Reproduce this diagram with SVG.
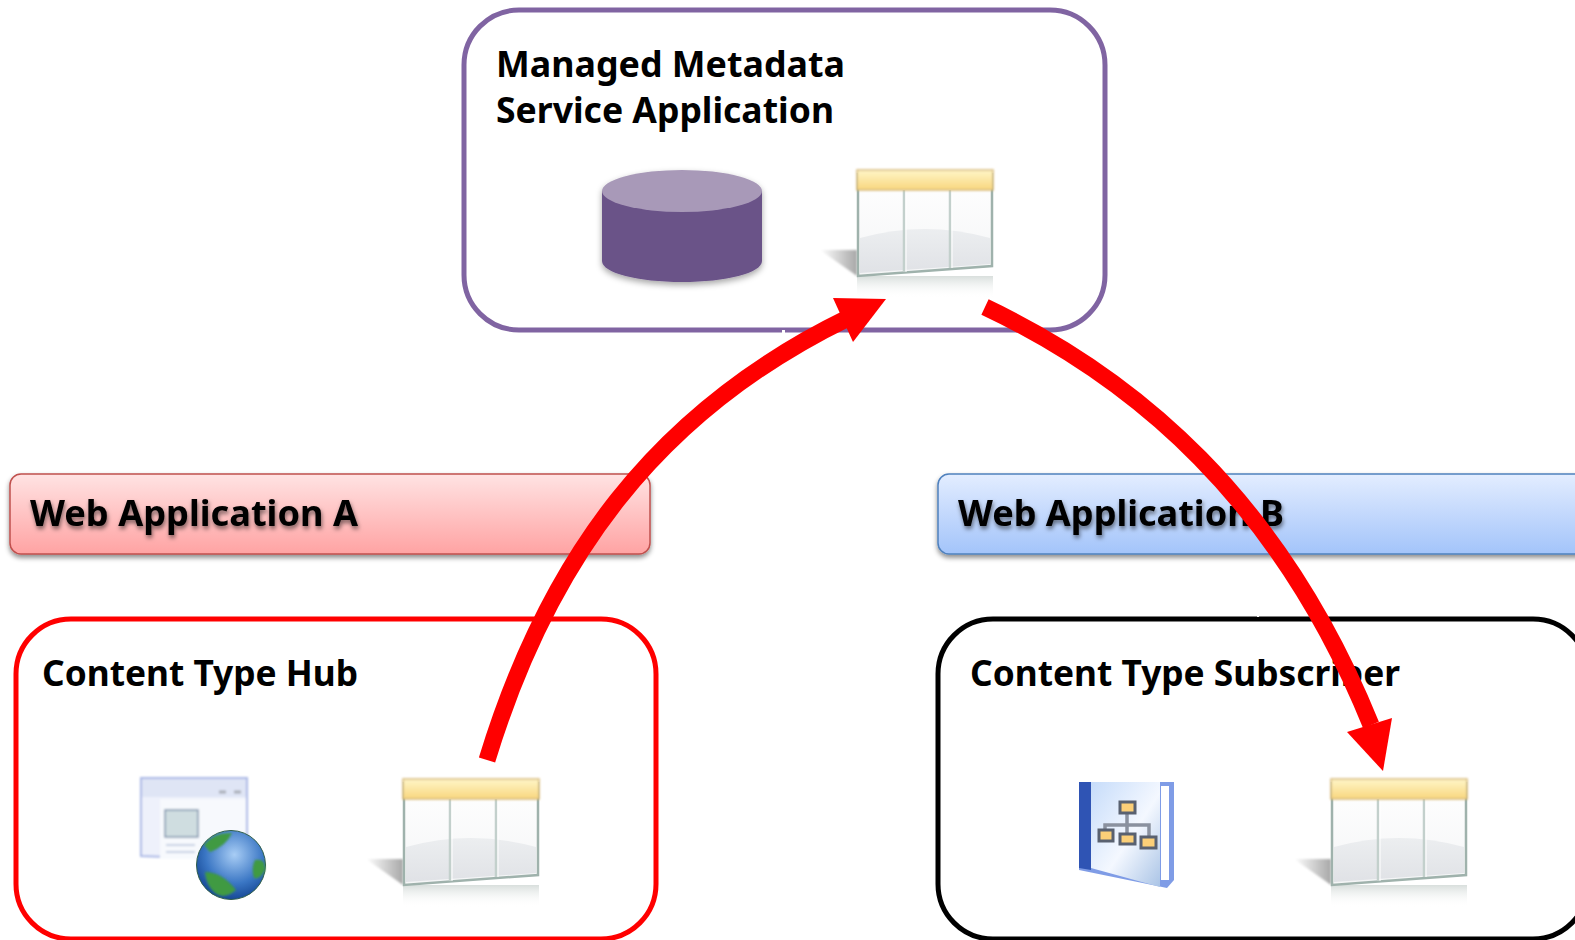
<svg xmlns="http://www.w3.org/2000/svg" width="1575" height="940" viewBox="0 0 1575 940">
<style>
.t{font-family:"Noto Sans","Open Sans","Liberation Sans",sans-serif;font-weight:700;font-size:36px;fill:#000}
.box{fill:#fff;stroke-width:5}
.arrow{fill:none;stroke:#f00;stroke-width:17}
.head{fill:#f00}
</style>
<defs>
<linearGradient id="gA" x1="0" y1="0" x2="0" y2="1"><stop offset="0" stop-color="#ffe3e3"/><stop offset="1" stop-color="#ffa3a3"/></linearGradient>
<linearGradient id="gB" x1="0" y1="0" x2="0" y2="1"><stop offset="0" stop-color="#e3edff"/><stop offset="1" stop-color="#a3c4fa"/></linearGradient>
<linearGradient id="hdr" x1="0" y1="0" x2="0" y2="1"><stop offset="0" stop-color="#fff6c8"/><stop offset="1" stop-color="#f8d67e"/></linearGradient>
<linearGradient id="shade" x1="1" y1="0" x2="0" y2="0"><stop offset="0" stop-color="#a8a8a8"/><stop offset="1" stop-color="#fff"/></linearGradient>
<linearGradient id="refl" x1="0" y1="0" x2="0" y2="1"><stop offset="0" stop-color="#b9c4c0" stop-opacity=".55"/><stop offset="1" stop-color="#fff" stop-opacity="0"/></linearGradient>
<linearGradient id="pane" x1="0" y1="0" x2="0" y2="1"><stop offset="0" stop-color="#fff"/><stop offset="1" stop-color="#f4f5f6"/></linearGradient>
<linearGradient id="gloss" x1="0" y1="0" x2="0" y2="1"><stop offset="0" stop-color="#eceef0"/><stop offset="1" stop-color="#e0e2e6"/></linearGradient>
<linearGradient id="book" x1="0" y1="0" x2="1" y2="1"><stop offset="0" stop-color="#c6dcfa"/><stop offset=".55" stop-color="#f4f8ff"/><stop offset="1" stop-color="#aac4e6"/></linearGradient>
<radialGradient id="globe" cx=".55" cy=".35" r=".7"><stop offset="0" stop-color="#a8cdf5"/><stop offset=".6" stop-color="#3a76c4"/><stop offset="1" stop-color="#0f3f8c"/></radialGradient>
<filter id="sh" x="-5%" y="-20%" width="110%" height="150%"><feDropShadow dx="0" dy="3" stdDeviation="2.5" flood-color="#000" flood-opacity=".45"/></filter>
<filter id="ts" x="-5%" y="-20%" width="110%" height="150%"><feDropShadow dx="1" dy="3" stdDeviation="2" flood-color="#000" flood-opacity=".5"/></filter>
<filter id="cs" x="-10%" y="-10%" width="120%" height="125%"><feDropShadow dx="0" dy="3" stdDeviation="3" flood-color="#000" flood-opacity=".35"/></filter>
<filter id="blur1" x="-20%" y="-20%" width="140%" height="140%"><feGaussianBlur stdDeviation=".8"/></filter>
<filter id="blur2" x="-20%" y="-20%" width="140%" height="140%"><feGaussianBlur stdDeviation="1.500"/></filter>
<symbol id="table" overflow="visible" viewBox="0 0 1 1" width="1" height="1">
<polygon points="-37,80 0,80 0,106" fill="url(#shade)" filter="url(#blur1)"/>
<rect x="0" y="106" width="136" height="22" fill="url(#refl)"/>
<polygon points="1,4 135,4 135,96 1,106" fill="url(#pane)" stroke="#9fb2ac" stroke-width="2.500"/>
<path d="M3 68 Q68 50 133 68 V94 L3 103Z" fill="url(#gloss)"/>
<path d="M47 20V102M93 20V98" stroke="#c3d0cc" stroke-width="2.500" fill="none"/>
<path d="M47 20V102M93 20V98" stroke="#fff" stroke-width="1" fill="none" transform="translate(2 0)"/>
<rect x="0" y="0" width="136" height="20" fill="url(#hdr)" stroke="#d6b878" stroke-width="1.500" filter="url(#blur1)"/>
</symbol>
</defs>
<rect width="1575" height="940" fill="#fff"/>

<g id="managed-metadata">
<rect class="box" x="464" y="10" width="641" height="320" rx="55" stroke="#8064a2"/>
<text class="t" x="496" y="77" textLength="349" lengthAdjust="spacingAndGlyphs">Managed Metadata</text>
<text class="t" x="496" y="123" textLength="338" lengthAdjust="spacingAndGlyphs">Service Application</text>
<g id="database" filter="url(#cs)">
<path d="M602 191V261C602 273 638 282 682 282S762 273 762 261V191Z" fill="#6a5288"/>
<ellipse cx="682" cy="191" rx="80" ry="21" fill="#a899b8"/>
</g>
<use href="#table" x="857" y="170"/>
<rect x="782" y="330" width="3" height="3" fill="#fff"/>
</g>

<g id="web-app-a">
<rect x="10" y="474" width="640" height="80" rx="11" fill="url(#gA)" stroke="#c0504d" stroke-width="1.500" filter="url(#sh)"/>
<text class="t" x="30" y="526" textLength="328" lengthAdjust="spacingAndGlyphs" filter="url(#ts)">Web Application A</text>
</g>

<g id="web-app-b">
<rect x="938" y="474" width="650" height="80" rx="11" fill="url(#gB)" stroke="#4f81bd" stroke-width="1.500" filter="url(#sh)"/>
<text class="t" x="958" y="526" textLength="326" lengthAdjust="spacingAndGlyphs" filter="url(#ts)">Web Application B</text>
</g>

<g id="content-type-hub">
<rect class="box" x="16" y="619" width="640" height="320" rx="55" stroke="#f00"/>
<text class="t" x="42" y="686" textLength="316" lengthAdjust="spacingAndGlyphs">Content Type Hub</text>
<g id="site-icon">
<g filter="url(#blur1)">
<polygon points="141,778 247,778 247,860 141,856" fill="#eef1fb" stroke="#aab8e6" stroke-width="2"/>
<rect x="142" y="779" width="104" height="18" fill="#dfe5f5"/>
<rect x="160" y="799" width="86" height="60" fill="#f7f9fd"/>
<rect x="165" y="810" width="33" height="27" fill="#cfdde0" stroke="#7f93ac" stroke-width="1.500"/>
<path d="M166 845H195M166 852H195" stroke="#c8d1e4" stroke-width="2"/>
<path d="M219 792H226M234 792H241" stroke="#a9adb8" stroke-width="3"/>
</g>
<circle cx="231" cy="865" r="34.500" fill="url(#globe)" stroke="#2f5e4a" stroke-width="1"/>
<path d="M204 845Q214 832 232 833Q226 846 210 852ZM205 872Q222 872 236 890Q224 900 215 893Q206 885 205 872ZM255 860Q266 858 265 870Q260 880 254 878Q251 868 255 860Z" fill="#3f9a42" filter="url(#blur1)"/>
</g>
<use href="#table" x="403" y="779"/>
</g>

<g id="content-type-subscriber">
<rect class="box" x="938" y="619" width="650" height="320" rx="55" stroke="#000"/>
<text class="t" x="970" y="686" textLength="430" lengthAdjust="spacingAndGlyphs">Content Type Subscriber</text>
<g id="sitemap-icon">
<polygon points="1079,782 1174,782 1174,880 1167,888 1079,870" fill="#7f9ce6"/>
<polygon points="1091,782 1160,782 1160,887 1091,868" fill="url(#book)"/>
<polygon points="1079,782 1091,782 1091,870 1079,868" fill="#2f54b4"/>
<rect x="1161" y="786" width="8" height="94" fill="#fff"/>
<path d="M1127 810V835M1105 835V825H1149V838" stroke="#8a919f" stroke-width="3.500" fill="none"/>
<g fill="#fbcf78" stroke="#596170" stroke-width="3">
<rect x="1120" y="802" width="15" height="11"/>
<rect x="1099" y="830" width="14" height="11"/>
<rect x="1120" y="834" width="15" height="10"/>
<rect x="1141" y="837" width="15" height="11"/>
</g>
</g>
<use href="#table" x="1331" y="779"/>
<rect x="1257" y="612" width="2" height="5" fill="#fff"/>
</g>

<g id="connectors">
<path class="arrow" d="M487 760C548 560 655 412 848 318"/>
<polygon class="head" points="886,299 833,298 853,342"/>
<path class="arrow" d="M985 307C1135 378 1280 500 1371 725"/>
<polygon class="head" points="1383,771 1347,732 1392,718"/>
</g>
</svg>
